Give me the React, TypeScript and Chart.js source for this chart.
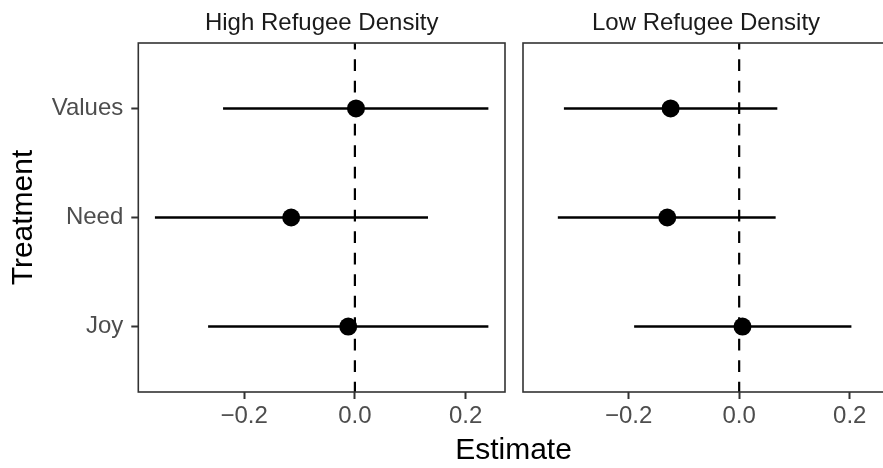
import React, { useEffect, useRef } from 'react';
import { Chart, registerables } from 'chart.js';

Chart.register(...registerables);

// ---- data ----
const categories = ['Joy', 'Need', 'Values'];
const categoryPositions = [1, 2, 3];
const panelTitles = ['High Refugee Density', 'Low Refugee Density'];
const highEstimate = [-0.012, -0.115, 0.002];
const highLower = [-0.265, -0.361, -0.238];
const highUpper = [0.241, 0.132, 0.241];
const lowEstimate = [0.006, -0.13, -0.124];
const lowLower = [-0.19, -0.328, -0.317];
const lowUpper = [0.203, 0.066, 0.069];
const xTickValues = [-0.2, 0, 0.2];
const xTickLabels = ['\u22120.2', '0.0', '0.2'];
const referenceLine = 0;
const xLimits = [-0.391, 0.271];
const yLimits = [0.4, 3.6];

const FONT = '"Liberation Sans", Arial, Helvetica, sans-serif';

const panelBorder = {
  id: 'panelBorder',
  afterDraw(chart: any) {
    const { ctx, chartArea: a } = chart;
    ctx.save();
    ctx.strokeStyle = '#333333';
    ctx.lineWidth = 1.6;
    ctx.strokeRect(a.left, a.top, a.right - a.left, a.bottom - a.top);
    ctx.restore();
  },
};

function buildConfig(
  title: string,
  est: number[],
  lo: number[],
  hi: number[],
  showY: boolean,
  padLeft: number,
  padRight: number
): any {
  const points = categoryPositions.map((y, i) => ({ x: est[i], y }));
  const bars = categoryPositions.map((y, i) => ({
    type: 'scatter',
    data: [
      { x: lo[i], y },
      { x: hi[i], y },
    ],
    showLine: true,
    borderColor: '#000000',
    borderWidth: 2.4,
    pointRadius: 0,
    order: 1,
  }));
  return {
    type: 'scatter',
    data: {
      datasets: [
        {
          data: points,
          backgroundColor: '#000000',
          borderWidth: 0,
          pointRadius: 9,
          order: 0,
        },
        ...bars,
        {
          data: [
            { x: referenceLine, y: yLimits[1] },
            { x: referenceLine, y: yLimits[0] },
          ],
          showLine: true,
          borderColor: '#000000',
          borderWidth: 2.2,
          borderDash: [11.6, 9.9],
          borderDashOffset: 5.2,
          pointRadius: 0,
          order: 2,
        },
      ],
    },
    options: {
      animation: false,
      responsive: false,
      devicePixelRatio: 1,
      events: [],
      layout: { padding: { left: padLeft, right: padRight, top: 0, bottom: 0 } },
      plugins: {
        legend: { display: false },
        tooltip: { enabled: false },
        title: {
          display: true,
          text: title,
          fullSize: false,
          color: '#1A1A1A',
          font: { family: FONT, size: 24, weight: 'normal', lineHeight: 1.2 },
          padding: { top: 9, bottom: 5.2 },
        },
      },
      scales: {
        x: {
          type: 'linear',
          min: xLimits[0],
          max: xLimits[1],
          afterBuildTicks: (s: any) => {
            s.ticks = xTickValues.map((v) => ({ value: v }));
          },
          afterFit: (s: any) => {
            s.height = 76;
          },
          ticks: {
            color: '#4D4D4D',
            font: { family: FONT, size: 24, lineHeight: 1.2 },
            padding: 3,
            maxRotation: 0,
            autoSkip: false,
            callback: (v: number) => {
              const i = xTickValues.findIndex((t) => Math.abs(t - v) < 1e-9);
              return i >= 0 ? xTickLabels[i] : '';
            },
          },
          grid: {
            display: true,
            drawOnChartArea: false,
            drawTicks: true,
            tickLength: 7,
            tickColor: '#333333',
            tickWidth: 2,
          },
          border: { display: false },
        },
        y: {
          type: 'linear',
          display: showY,
          min: yLimits[0],
          max: yLimits[1],
          afterBuildTicks: (s: any) => {
            s.ticks = categoryPositions.map((v) => ({ value: v }));
          },
          afterFit: (s: any) => {
            s.width = showY ? 138.3 : 0;
          },
          ticks: {
            color: '#4D4D4D',
            font: { family: FONT, size: 24, lineHeight: 1.2 },
            padding: 8,
            autoSkip: false,
            callback: (v: number) => {
              const i = categoryPositions.indexOf(v);
              return i >= 0 ? categories[i] : '';
            },
          },
          grid: {
            display: true,
            drawOnChartArea: false,
            drawTicks: true,
            tickLength: 7,
            tickColor: '#333333',
            tickWidth: 2,
          },
          border: { display: false },
          title: {
            display: showY,
            text: 'Treatment',
            color: '#000000',
            font: { family: FONT, size: 30, lineHeight: 1.2 },
            padding: { top: 6.2, bottom: 0 },
          },
        },
      },
    },
    plugins: [panelBorder],
  };
}

export default function App() {
  const leftRef = useRef<HTMLCanvasElement>(null);
  const rightRef = useRef<HTMLCanvasElement>(null);

  useEffect(() => {
    const c1 = new Chart(
      leftRef.current as HTMLCanvasElement,
      buildConfig(panelTitles[0], highEstimate, highLower, highUpper, true, 0, 8)
    );
    const c2 = new Chart(
      rightRef.current as HTMLCanvasElement,
      buildConfig(panelTitles[1], lowEstimate, lowLower, lowUpper, false, 7.7, 8.6)
    );
    return () => {
      c1.destroy();
      c2.destroy();
    };
  }, []);

  return (
    <div
      style={{
        position: 'absolute',
        left: 0,
        top: 0,
        width: 883,
        height: 468,
        overflow: 'hidden',
        background: '#ffffff',
        fontFamily: FONT,
      }}
    >
      <canvas
        ref={leftRef}
        width={514}
        height={468}
        style={{ position: 'absolute', left: 0, top: 0, width: 514, height: 468 }}
      />
      <canvas
        ref={rightRef}
        width={384}
        height={468}
        style={{ position: 'absolute', left: 514, top: 0, width: 384, height: 468 }}
      />
      <div
        style={{
          position: 'absolute',
          left: 413.5,
          width: 200,
          top: 434.4,
          fontSize: 30,
          lineHeight: '30px',
          textAlign: 'center',
          color: '#000000',
          whiteSpace: 'nowrap',
        }}
      >
        Estimate
      </div>
    </div>
  );
}
